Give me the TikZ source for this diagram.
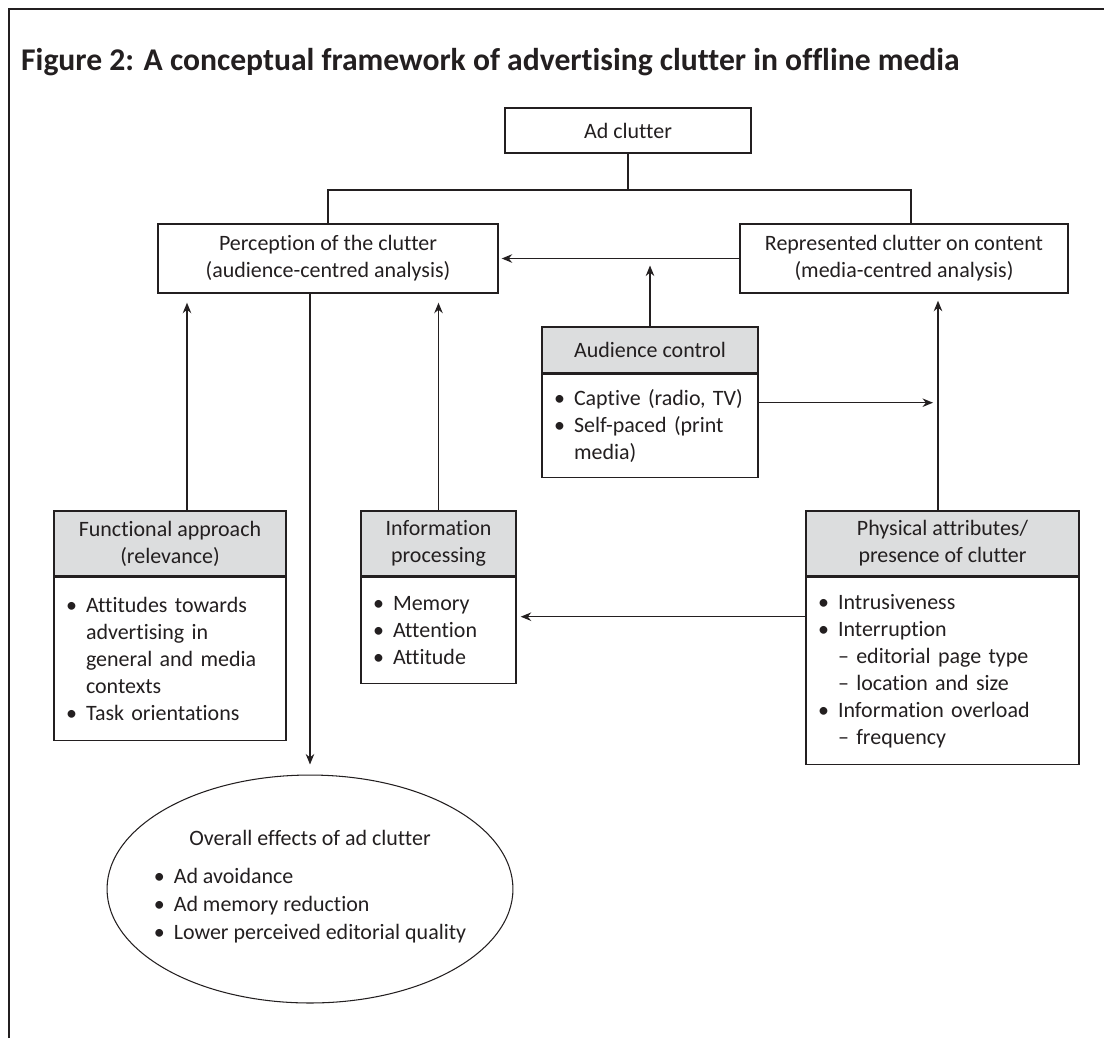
\documentclass[tikz,border=0pt]{standalone}
\usepackage{fontspec}
\setmainfont{Carlito}[Ligatures=NoCommon]
\usepackage{xcolor}
\usetikzlibrary{arrows.meta,shapes.geometric}

\definecolor{inkgray}{HTML}{231F20}
\definecolor{headgray}{HTML}{DCDDDE}

\newcommand{\bul}{\makebox[0.4cm][l]{\textbullet}}
\newcommand{\ind}{\hspace*{0.4cm}}

\begin{document}
\begin{tikzpicture}[x=0.02cm,y=-0.02cm,>={Stealth[length=0.21cm,width=0.17cm]},
  every node/.style={font=\fontsize{12.5}{15.4}\selectfont,text=inkgray},
  box/.style={draw=inkgray,line width=0.8pt,inner sep=0pt,align=center},
  headbox/.style={box,fill=headgray},
  bodybox/.style={box,fill=white,inner xsep=0.24cm,align=left},
  link/.style={draw=inkgray,line width=0.8pt}]

\useasboundingbox (0,0) rectangle (1104,1038);

% frame
\draw[inkgray,line width=1.2pt] (9,1038) -- (9,9) -- (1104,9);

\node[anchor=base west,font=\bfseries\fontsize{18}{22}\selectfont] (title) at (15,70)
  {Figure 2: A conceptual framework of advertising clutter in offline media};

% top level
\node[box,minimum width=4.92cm,minimum height=0.9cm] (adclutter) at (628,130.5) {Ad clutter};
\node[box,minimum width=6.8cm,minimum height=1.38cm] (perception) at (328,258.5)
  {Perception of the clutter\\(audience-centred analysis)};
\node[box,minimum width=6.56cm,minimum height=1.38cm] (represented) at (904,258.5)
  {Represented clutter on content\\(media-centred analysis)};

% audience control
\node[headbox,minimum width=4.32cm,minimum height=0.92cm] (audhead) at (650,350) {Audience control};
\node[bodybox,anchor=north,text width=3.84cm,minimum width=4.32cm,minimum height=2.06cm] (audbody) at (audhead.south)
  {\bul Captive (radio, TV)\\\bul Self-paced (print\\\ind media)};

% lower boxes
\node[headbox,minimum width=4.64cm,minimum height=1.3cm] (funchead) at (170,543.5) {Functional approach\\(relevance)};
\node[bodybox,anchor=north,text width=4.16cm,minimum width=4.64cm,minimum height=3.26cm] (funcbody) at (funchead.south)
  {\bul Attitudes towards\\\ind advertising in\\\ind general and media\\\ind contexts\\\bul Task orientations};

\node[headbox,minimum width=3.1cm,minimum height=1.3cm] (infohead) at (438.5,543.5) {Information\\processing};
\node[bodybox,anchor=north,text width=2.62cm,minimum width=3.1cm,minimum height=2.12cm] (infobody) at (infohead.south)
  {\bul Memory\\\bul Attention\\\bul Attitude};

\node[headbox,minimum width=5.46cm,minimum height=1.3cm] (phyhead) at (942.5,543.5) {Physical attributes/\\presence of clutter};
\node[bodybox,anchor=north,text width=4.98cm,minimum width=5.46cm,minimum height=3.74cm] (phybody) at (phyhead.south)
  {\bul Intrusiveness\\\bul Interruption\\\ind -- editorial page type\\\ind -- location and size\\\bul Information overload\\\ind -- frequency};

% effects
\node[draw=inkgray,ellipse,line width=0.6pt,inner sep=0pt,minimum width=8.12cm,minimum height=4.56cm] (effects) at (310,889) {};
\node[font=\fontsize{12.5}{15.9}\selectfont,inner sep=0pt] (effectslist) at ([yshift=0.04cm]effects.center)
  {\begin{tabular}{@{}l@{}}\multicolumn{1}{@{}c@{}}{Overall effects of ad clutter}\\[0.2cm]
   \bul Ad avoidance\\\bul Ad memory reduction\\\bul Lower perceived editorial quality\end{tabular}};

% links
\coordinate (bar) at (0,190);
\coordinate (riser) at (938,0);
\draw[link] (perception.north) |- ([xshift=0.14cm]bar -| represented.north) coordinate (media) -- (media |- represented.north);
\draw[link] (adclutter.south) -- (adclutter.south |- bar);
\draw[link,->,shorten >=0.06cm] (represented.west) -- (perception.east);
\draw[link,->,shorten >=0.14cm] (audhead.north) -- (audhead.north |- perception.east);
\draw[link,->,shorten >=0.14cm] (riser |- phyhead.north) -- (riser |- represented.south);
\draw[link,->,shorten >=0.1cm] ([yshift=-0.58cm]audbody.north east) coordinate (captive) -- (captive -| riser);
\draw[link,->,shorten >=0.08cm] ([yshift=-0.8cm]phybody.north west) coordinate (presence) -- (presence -| infobody.east);
\draw[link,->,shorten >=0.18cm] ([xshift=0.34cm]funchead.north) coordinate (relevance) -- (relevance |- perception.south);
\draw[link,->,shorten >=0.18cm] (infohead.north) -- (infohead.north |- perception.south);
\draw[link,->,shorten >=0.2cm] (effects.north |- perception.south) -- (effects.north);

\end{tikzpicture}
\end{document}
